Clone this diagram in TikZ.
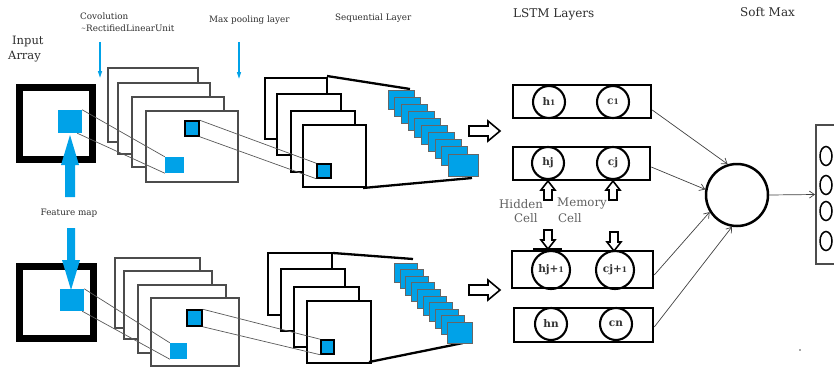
\documentclass[tikz,border=0pt]{standalone}
\usepackage{fontspec}
\setmainfont{DejaVu Serif}
\usetikzlibrary{arrows.meta,calc}
\definecolor{sky}{HTML}{00A2E8}
\definecolor{ink}{HTML}{2E2E2E}

\tikzset{
  hollowright/.pic={\draw[line width=1.6pt,fill=white]
    (0,-5) -- (19,-5) -- (19,-10) -- (31,0) -- (19,10) -- (19,5) -- (0,5) -- cycle;},
  hollowup/.pic={\draw[line width=1.6pt,fill=white]
    (0,0) -- (7,9) -- (4,9) -- (4,19) -- (-4,19) -- (-4,9) -- (-7,9) -- cycle;},
  hollowdown/.pic={\draw[line width=1.6pt,fill=white]
    (0,0) -- (7,-9) -- (4,-9) -- (4,-19) -- (-4,-19) -- (-4,-9) -- (-7,-9) -- cycle;}
}
\newcommand{\sub}[1]{{\fontsize{7.5}{8}\selectfont #1}}

\begin{document}
\begin{tikzpicture}[x=1pt,y=-1pt,
  lbl/.style={text=ink,inner sep=0pt,font=\fontsize{8.8}{9}\selectfont},
  head/.style={text=ink,inner sep=0pt,font=\fontsize{12}{13}\selectfont},
  cellnote/.style={text=black!62,inner sep=0pt,font=\fontsize{11.8}{12}\selectfont},
  convframe/.style={draw=black!70,line width=1.3pt,fill=white},
  poolframe/.style={draw=black,line width=1.8pt,fill=white},
  inbox/.style={draw=black,line width=7pt},
  patch/.style={fill=sky,draw=none,inner sep=0pt},
  kernel/.style={fill=sky,draw=black,line width=1.5pt,inner sep=0pt},
  seqsq/.style={fill=sky,draw=black!60,line width=0.7pt},
  thin/.style={draw=black!65,line width=0.7pt},
  funnel/.style={draw=black,line width=2.3pt},
  lstm/.style={draw=black,line width=2.5pt,inner sep=0pt},
  gate/.style={circle,draw=black,line width=2.1pt,inner sep=0pt,text=black!80,
    font=\fontsize{10.5}{11}\selectfont\bfseries},
  link/.style={draw=black!75,line width=0.7pt,-{Straight Barb[length=5pt,width=7pt]}},
  bluearrow/.style={draw=sky,line width=1.4pt,-{Triangle[length=7pt,width=4pt]}}
]
\useasboundingbox (0,0) rectangle (834,369);

% ---------- headings ----------
\node[head,anchor=west,font=\fontsize{11.5}{12}\selectfont] (tin) at (12,42) {Input};
\node[head,anchor=west,font=\fontsize{11.5}{12}\selectfont] (tarr) at (8,57) {Array};
\node[lbl,anchor=west] (tconv) at (80,16) {Covolution};
\node[lbl,anchor=west] (trelu) at (81,28) {\raisebox{1pt}{\fontsize{6}{6}\selectfont\textasciitilde}RectifiedLinearUnit};
\node[lbl,anchor=west] (tpool) at (209,20) {Max pooling layer};
\node[lbl,anchor=west] (tseq) at (335,18) {Sequential Layer};
\node[head,anchor=west] (tlstm) at (513,14) {LSTM Layers};
\node[head,anchor=west] (tsoft) at (740,12) {Soft Max};
\node[lbl] (tfeat) at (69,213) {Feature map};

\coordinate (ca) at (100,42); \coordinate (cb) at (100,78);
\coordinate (pa) at (239,42); \coordinate (pb) at (239,79);
\draw[bluearrow] (ca) -- (cb);
\draw[bluearrow] (pa) -- (pb);

% ---------- input arrays ----------
\draw[inbox] (19.5,87.5) rectangle (92.5,159.5);
\draw[inbox] (19.5,266.5) rectangle (93.5,338.5);
\node[patch,minimum width=24pt,minimum height=23pt] (inA) at (70,121.5) {};
\node[patch,minimum width=24pt,minimum height=22pt] (inB) at (72,300) {};

% feature-map arrows
\fill[sky] (65,197) -- (65,165) -- (61,165) -- (70,135) -- (79,165) -- (75,165) -- (75,197) -- cycle;
\fill[sky] (67,228) -- (75,228) -- (75,260) -- (80,260) -- (71,290) -- (62,260) -- (67,260) -- cycle;

% ---------- convolution stacks ----------
\draw[convframe] (108,68) rectangle (198,142);
\draw[convframe] (118,83) rectangle (210,154);
\draw[convframe] (132,97) rectangle (224,167);
\draw[convframe] (146,111) rectangle (238,182);
\node[kernel,minimum width=14pt,minimum height=15pt] (kA) at (192,128.5) {};
\node[patch,minimum width=19pt,minimum height=16pt] (cvA) at (174.5,165) {};

\draw[convframe] (115,258) rectangle (200,328);
\draw[convframe] (124,271) rectangle (212,339);
\draw[convframe] (138,285) rectangle (226,353);
\draw[convframe] (151,298) rectangle (239,366);
\node[kernel,minimum width=15pt,minimum height=16pt] (kB) at (194.5,318) {};
\node[patch,minimum width=17pt,minimum height=16pt] (cvB) at (178.5,351) {};

% ---------- pooling stacks ----------
\draw[poolframe] (265,78) rectangle (327,139);
\draw[poolframe] (277,94) rectangle (341,155);
\draw[poolframe] (291,111) rectangle (355,172);
\draw[poolframe] (303,125) rectangle (366,187);
\node[kernel,minimum width=14pt,minimum height=14pt] (plA) at (324,171) {};

\draw[poolframe] (268,253) rectangle (332,315);
\draw[poolframe] (281,269) rectangle (345,331);
\draw[poolframe] (294,287) rectangle (359,347);
\draw[poolframe] (307,301) rectangle (371,363);
\node[kernel,minimum width=13pt,minimum height=14pt] (plB) at (327.5,347) {};

% receptive-field lines
\draw[thin] (inA.north east) -- (cvA.north west);
\draw[thin] ([xshift=-5pt]inA.south east) -- (cvA.south west);
\draw[thin] (kA.north east) -- (plA.north west);
\draw[thin] (kA.south east) -- (plA.south west);
\draw[thin] (inB.north east) -- (cvB.north west);
\draw[thin] ([xshift=-2pt]inB.south east) -- (cvB.south west);
\draw[thin] (kB.north east) -- (plB.north west);
\draw[thin] (kB.south east) -- (plB.south west);

% ---------- sequential layers ----------
\draw[funnel] (327,76) -- (410,89);
\draw[funnel] (363,188) -- (472,178);
\foreach \i in {0,...,8}
  \draw[seqsq] ({388+6.7*\i},{90+7.1*\i}) rectangle ++(26,19);
\draw[seqsq] (448,154) rectangle ++(30,22);

\draw[funnel] (333,253) -- (413,259);
\draw[funnel] (369,362) -- (463,343);
\foreach \i in {0,...,8}
  \draw[seqsq] ({394+5.9*\i},{263+6.6*\i}) rectangle ++(23,19);
\draw[seqsq] (447,322) rectangle ++(25,21);

\pic at (469,131) {hollowright};
\pic at (469,290) {hollowright};

% ---------- LSTM layers ----------
\node[lstm,minimum width=138pt,minimum height=33pt] (L1) at (582,101.5) {};
\node[lstm,minimum width=137pt,minimum height=33pt] (L2) at (581.5,163.5) {};
\node[lstm,minimum width=141pt,minimum height=37pt] (L3) at (582.5,269.5) {};
\node[lstm,minimum width=139pt,minimum height=34pt] (L4) at (583.5,325) {};

\node[gate,minimum size=32pt] (h1) at (549,102) {h\sub{1}};
\node[gate,minimum size=32pt] (c1) at (613,102) {c\sub{1}};
\node[gate,minimum size=32pt] (hj) at (548,163) {hj};
\node[gate,minimum size=32pt] (cj) at (613,163) {cj};
\node[gate,minimum size=38pt] (hj1) at (551,270) {hj+\sub{1}};
\node[gate,minimum size=38pt] (cj1) at (615,270) {cj+\sub{1}};
\node[gate,minimum size=32pt] (hn) at (551,324) {hn};
\node[gate,minimum size=32pt] (cn) at (616,324) {cn};

\pic at (548,181) {hollowup};
\pic at (613,181) {hollowup};
\pic at (548,249) {hollowdown};
\pic at (614,251) {hollowdown};
\draw[line width=2.5pt] (533,249) -- (562,249);

\node[cellnote,anchor=west] (hid) at (499,204) {Hidden};
\node[cellnote,anchor=west] (hidc) at (514,218) {Cell};
\node[cellnote,anchor=west] (mem) at (557,204) {Memory};
\node[cellnote,anchor=west] (memc) at (558,218) {Cell};

% ---------- softmax ----------
\node[circle,draw=black,line width=2.5pt,minimum size=62pt,inner sep=0pt] (sm) at (737,195) {};
\draw[link] ([yshift=-8.5pt]L1.east) -- (sm.107);
\draw[link] ([yshift=-3.5pt]L2.east) -- (sm.170);
\draw[link] ([yshift=-5.5pt]L3.east) -- (sm.212);
\draw[link] ([yshift=-2pt]L4.east) -- (sm.261);

\begin{scope}
  \clip (0,0) rectangle (834,369);
  \node[draw=black!70,line width=2pt,minimum width=24pt,minimum height=139pt,inner sep=0pt] (sbox) at (828,194.5) {};
  \foreach \y in {156,185,211,241}
    \draw[line width=1.5pt] (826,\y) ellipse [x radius=6pt,y radius=9.5pt];
\end{scope}
\draw[link] (sm.east) -- (sbox.west);

\fill[black!70] (800,350) circle [radius=0.9pt];
\end{tikzpicture}
\end{document}
